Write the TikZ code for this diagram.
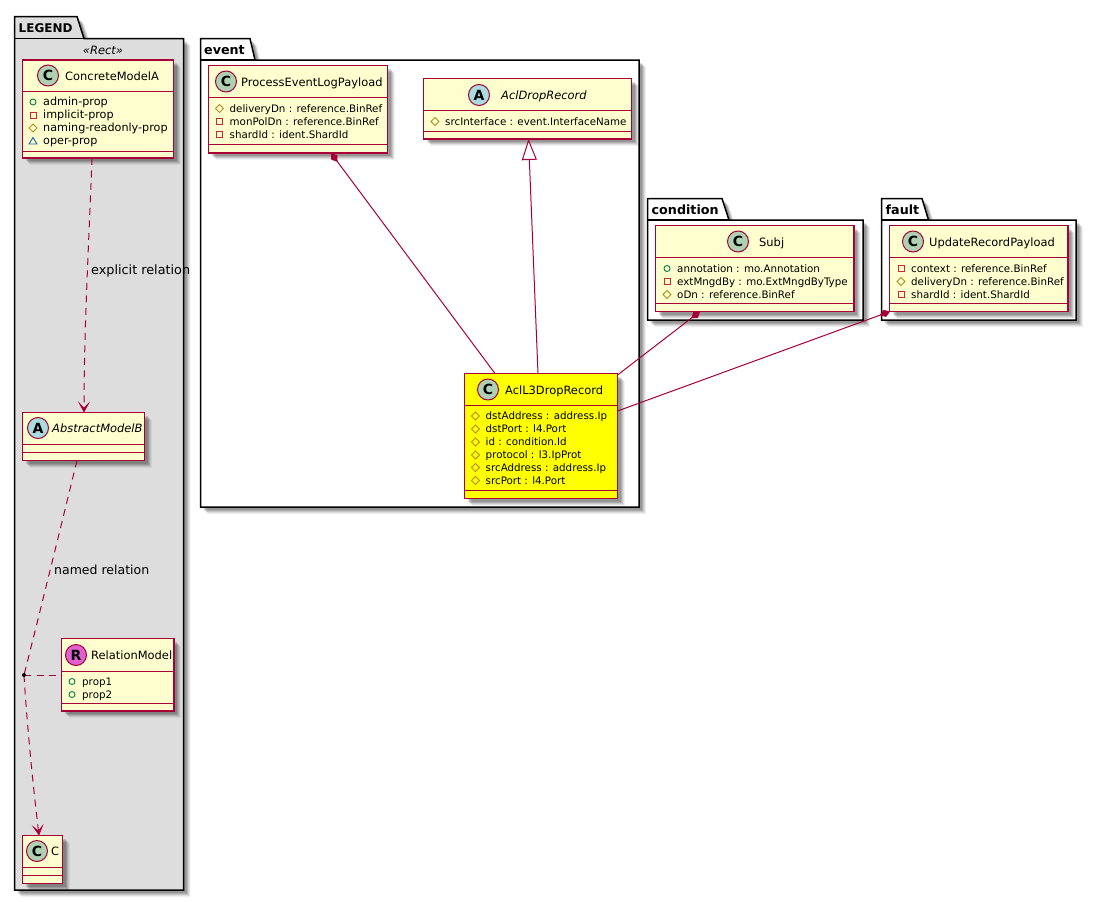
\documentclass[tikz,border=0pt]{standalone}
\usepackage{fontspec}
\setmainfont{DejaVu Sans}
\usetikzlibrary{arrows.meta,shadows,calc}
\definecolor{umlred}{HTML}{A80036}
\definecolor{umlfill}{HTML}{FEFECE}
\definecolor{umlyellow}{HTML}{FFFF00}
\definecolor{legendgray}{HTML}{DDDDDD}
\definecolor{spotC}{HTML}{ADD1B2}
\definecolor{spotA}{HTML}{A9DCDF}
\definecolor{spotR}{HTML}{E060D0}
\definecolor{visgreen}{HTML}{038048}
\definecolor{visred}{HTML}{C82930}
\definecolor{visgold}{HTML}{B38D22}
\definecolor{visblue}{HTML}{1963A0}
\newcounter{memcount}
\newcounter{spotcount}
\tikzset{
  softshadow/.style={
    general shadow={fill=black,opacity=.05,shadow xshift=7pt,shadow yshift=-7pt},
    general shadow={fill=black,opacity=.08,shadow xshift=6pt,shadow yshift=-6pt},
    general shadow={fill=black,opacity=.10,shadow xshift=5pt,shadow yshift=-5pt},
    general shadow={fill=black,opacity=.12,shadow xshift=4pt,shadow yshift=-4pt},
    general shadow={fill=black,opacity=.14,shadow xshift=3pt,shadow yshift=-3pt}},
  umlbox/.style={rectangle,draw=umlred,line width=1.4pt,fill=umlfill,inner sep=0pt,outer sep=0pt,softshadow},
  umlrule/.style={draw=umlred,line width=1pt},
  pkgline/.style={draw=black,line width=1.5pt},
  pkgtitle/.style={anchor=base west,inner sep=0pt,font=\fontsize{12.7}{14}\selectfont\bfseries},
  nametext/.style={anchor=base west,inner sep=0pt,font=\fontsize{11.45}{14}\selectfont},
  abstext/.style={nametext,font=\fontsize{11.45}{14}\selectfont\itshape},
  membertext/.style={anchor=base west,inner sep=0pt,font=\fontsize{10.3}{12}\selectfont},
  edgetext/.style={anchor=base west,inner sep=0pt,font=\fontsize{12.5}{14}\selectfont},
  spot/.style={circle,draw=umlred,line width=1pt,minimum size=21pt,inner sep=0pt,font=\fontsize{14}{15}\selectfont\bfseries},
  conn/.style={draw=umlred,line width=1pt},
  dashconn/.style={conn,dash pattern=on 7pt off 5.5pt},
  openhead/.style={-{Stealth[length=11pt,width=12pt,inset=6pt,fill=umlred,line width=.6pt]}},
  compo/.style={{Diamond[length=11pt,width=7.5pt,fill=umlred]}-},
  vismark/.style={line width=.9pt},
}
% \boxat{name}{x1}{y1}{x2}{y2}{fill}
\newcommand{\boxat}[6]{\node[umlbox,fill=#6,minimum width=#4pt-#2pt,minimum height=#5pt-#3pt] (#1) at ({(#2+#4)/2},{(#3+#5)/2}) {};}
\newcommand{\seps}[4]{%
  \draw[umlrule] (#1.west |- 0,#2) -- (#1.east |- 0,#2);
  \draw[umlrule] (#1.west |- 0,#3) -- (#1.east |- 0,#3);}
\newcommand{\spotat}[4]{\stepcounter{spotcount}\node[spot,fill=#3] (spot\arabic{spotcount}) at (#1,#2) {#4};}
% \mem{kind}{iconx}{texty-center}{text}
\newcommand{\mem}[4]{%
  \stepcounter{memcount}%
  \csname vis#1\endcsname{#2}{#3}%
  \node[membertext] (mem\arabic{memcount}) at (#2+10,#3+3.8) {#4};}
\newcommand{\vispub}[2]{\draw[vismark,visgreen] (#1,#2) circle[radius=3pt];}
\newcommand{\vispriv}[2]{\draw[vismark,visred] (#1-3,#2-3) rectangle (#1+3,#2+3);}
\newcommand{\visprot}[2]{\draw[vismark,visgold] (#1-4,#2) -- (#1,#2-4) -- (#1+4,#2) -- (#1,#2+4) -- cycle;}
\newcommand{\vispack}[2]{\draw[vismark,visblue] (#1-4,#2+3) -- (#1+4,#2+3) -- (#1,#2-3.5) -- cycle;}
\newcommand{\legsize}{\fontsize{11.2}{12}\selectfont}
% \pkg{name}{x1}{ytab}{xtabtop}{xtabbot}{ybody}{x2}{y2}{fill}
\newcommand{\pkg}[9]{%
  \path[pkgline,fill=#9,softshadow] (#2,#6) -- (#2,#3) -- (#4,#3) -- (#5,#6) -- (#7,#6) -- (#7,#8) -- (#2,#8) -- cycle;
  \node[rectangle,inner sep=0pt,minimum width=#7pt-#2pt,minimum height=#8pt-#6pt] (#1) at ({(#2+#7)/2},{(#6+#8)/2}) {};
  \draw[pkgline] (#2,#6) -- (#5,#6);}
\begin{document}
\begin{tikzpicture}[x=1pt,y=-1pt]
\useasboundingbox (0,0) rectangle (1098,902);
\fill[white] (0,0) rectangle (1098,902);

% packages
\pkg{legend}{14.5}{16.5}{77}{84}{38.5}{183.5}{890}{legendgray}
\node[pkgtitle,font=\fontsize{12}{14}\selectfont\bfseries] (legendtitle) at (18.5,32) {LEGEND};
\node[anchor=base,inner sep=0pt,font=\fontsize{11.5}{14}\selectfont\itshape] (recttitle) at (103,54) {«Rect»};

\pkg{event}{200.5}{38.5}{250}{255}{60}{639}{507}{white}
\node[pkgtitle] (eventtitle) at (204,54) {event};

\pkg{condition}{647.5}{198.5}{722}{729}{220}{863}{320}{white}
\node[pkgtitle] (conditiontitle) at (651.5,214) {condition};

\pkg{fault}{881.5}{198.5}{922}{928.5}{220}{1076}{320}{white}
\node[pkgtitle] (faulttitle) at (885.5,214) {fault};

% legend classes
\boxat{cma}{22.5}{60}{173.5}{158}{umlfill}
\seps{cma}{91.5}{151}{}
\spotat{48}{75.5}{spotC}{C}
\node[nametext] (cmaname) at (65,80) {ConcreteModelA};
\mem{pub}{33}{102}{{\legsize admin-prop}}
\mem{priv}{33}{115}{{\legsize implicit-prop}}
\mem{prot}{33}{128}{{\legsize naming-readonly-prop}}
\mem{pack}{33}{141}{{\legsize oper-prop}}

\boxat{amb}{22.5}{412.5}{144.5}{460.5}{umlfill}
\seps{amb}{444}{452.5}{}
\spotat{38}{428}{spotA}{A}
\node[abstext] (ambname) at (52,432.5) {AbstractModelB};

\boxat{rel}{61.5}{638.5}{174}{711}{umlfill}
\seps{rel}{671}{703}{}
\spotat{76}{655}{spotR}{R}
\node[nametext] (relname) at (91,659.5) {RelationModel};
\mem{pub}{72}{681.5}{prop1}
\mem{pub}{72}{694.5}{prop2}

\boxat{cc}{22.5}{835.5}{62.5}{883.5}{umlfill}
\seps{cc}{867}{875.5}{}
\spotat{37}{851}{spotC}{C}
\node[nametext] (ccname) at (51,855.5) {C};

% event classes
\boxat{pel}{208.5}{65.5}{387.5}{153}{umlfill}
\seps{pel}{97}{144.5}{}
\spotat{226}{81.5}{spotC}{C}
\node[nametext] (pelname) at (241,86) {ProcessEventLogPayload};
\mem{prot}{219.5}{108.5}{deliveryDn : reference.BinRef}
\mem{priv}{219.5}{121.5}{monPolDn : reference.BinRef}
\mem{priv}{219.5}{134.5}{shardId : ident.ShardId}

\boxat{adr}{423.5}{78.5}{631.5}{139}{umlfill}
\seps{adr}{110.5}{131}{}
\spotat{479}{95}{spotA}{A}
\node[abstext] (adrname) at (501,99) {AclDropRecord};
\mem{prot}{435}{121.5}{srcInterface : event.InterfaceName}

\boxat{al3}{464.5}{373.5}{617.5}{498.5}{umlyellow}
\seps{al3}{405}{490.5}{}
\spotat{488}{389.5}{spotC}{C}
\node[nametext] (al3name) at (505,394) {AclL3DropRecord};
\mem{prot}{475.5}{416}{dstAddress : address.Ip}
\mem{prot}{475.5}{429}{dstPort : l4.Port}
\mem{prot}{475.5}{442}{id : condition.Id}
\mem{prot}{475.5}{455}{protocol : l3.IpProt}
\mem{prot}{475.5}{467.5}{srcAddress : address.Ip}
\mem{prot}{475.5}{480.5}{srcPort : l4.Port}

% condition / fault classes
\boxat{subj}{655.5}{225.5}{854}{311.5}{umlfill}
\seps{subj}{257}{303}{}
\spotat{738}{241.5}{spotC}{C}
\node[nametext] (subjname) at (759,246) {Subj};
\mem{pub}{667}{268.5}{annotation : mo.Annotation}
\mem{priv}{667}{281.5}{extMngdBy : mo.ExtMngdByType}
\mem{prot}{667}{294.5}{oDn : reference.BinRef}

\boxat{urp}{889.5}{225.5}{1068}{311.5}{umlfill}
\seps{urp}{257}{303}{}
\spotat{913}{241.5}{spotC}{C}
\node[nametext] (urpname) at (929,246) {UpdateRecordPayload};
\mem{priv}{901}{268.5}{context : reference.BinRef}
\mem{prot}{901}{281.5}{deliveryDn : reference.BinRef}
\mem{priv}{901}{294.5}{shardId : ident.ShardId}

% connectors
\coordinate (reljoint) at (24,675);
\draw[dashconn,openhead] ([xshift=69.5pt]cma.south west) .. controls (89,240) and (84,330) .. ([xshift=61.5pt]amb.north west);
\node[edgetext,font=\fontsize{12.8}{14}\selectfont] (explicitlabel) at (91,274) {explicit relation};
\draw[dashconn] ([xshift=54.5pt]amb.south west) .. controls (60,530) and (38,620) .. (reljoint);
\draw[dashconn,openhead] (reljoint) .. controls (27,725) and (33,785) .. ([xshift=16.5pt]cc.north west);
\draw[dashconn] (reljoint) -- (rel.west |- reljoint);
\fill[black] (reljoint) circle[radius=2pt];
\node[edgetext] (namedlabel) at (54,574) {named relation};

\draw[conn,compo] ([xshift=122.5pt]pel.south west) -- ([xshift=30.5pt]al3.north west);
\draw[conn,-{Triangle[open,length=21pt,width=15pt,fill=white]}] ([xshift=73.5pt]al3.north west) -- ([xshift=105pt]adr.south west);
\draw[conn,compo] ([xshift=44.5pt]subj.south west) -- ([yshift=-1.5pt]al3.north east);
\draw[conn,compo] ([xshift=.5pt]urp.south west) -- ([yshift=-37.5pt]al3.north east);
\end{tikzpicture}
\end{document}
